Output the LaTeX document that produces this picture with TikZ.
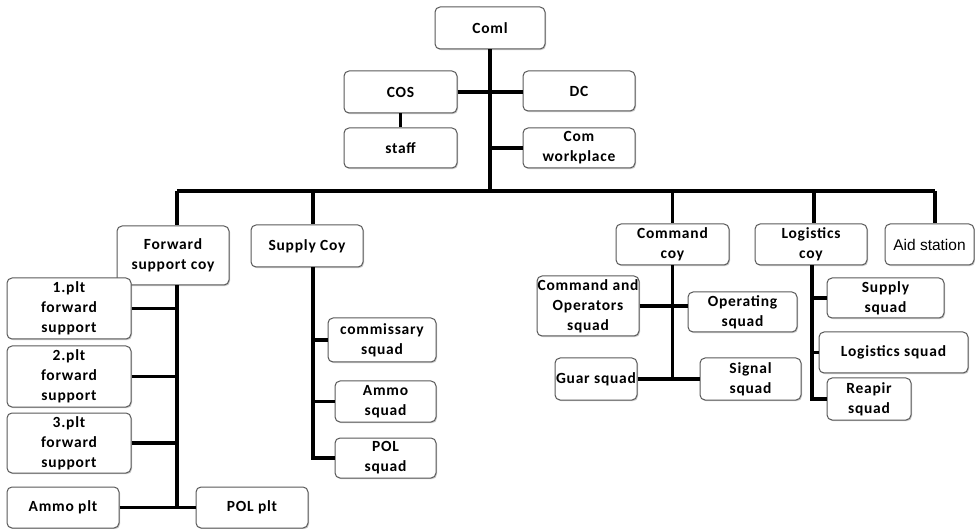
\documentclass[tikz,border=0pt]{standalone}
\usepackage{fontspec}
\setmainfont{Carlito}[LetterSpace=5]
\newfontfamily\aidfont{Liberation Sans}
\usetikzlibrary{shadows}
\tikzset{
  box/.style={draw=black!65, line width=1pt, rounded corners=5pt, fill=white,
    drop shadow={shadow xshift=1pt, shadow yshift=-1.2pt, opacity=0.35, fill=black!60},
    align=center, inner sep=0pt,
    font=\fontsize{15.5}{20}\selectfont\bfseries},
  conn/.style={line width=3.8pt, black}
}
\begin{document}
\begin{tikzpicture}[x=1pt,y=-1pt]
\useasboundingbox (0,0) rectangle (975,529);
% top
\node[box, minimum width=110pt, minimum height=42pt] (coml) at (490,28) {Coml};
\node[box, minimum width=113pt, minimum height=42pt] (cos) at (400.5,92) {COS};
\node[box, minimum width=112pt, minimum height=40pt] (dc) at (579,91) {DC};
\node[box, minimum width=113pt, minimum height=40pt] (staff) at (400.5,148) {staff};
\node[box, minimum width=112pt, minimum height=40pt] (cw) at (579,148) {Com\\workplace};
% level 2
\node[box, minimum width=112pt, minimum height=59pt] (fsc) at (173,255.5) {Forward\\support coy};
\node[box, minimum width=112pt, minimum height=42pt] (supc) at (307,246) {Supply Coy};
\node[box, minimum width=113pt, minimum height=41pt] (cmdc) at (672.5,244.5) {Command\\coy};
\node[box, minimum width=112pt, minimum height=41pt] (logc) at (811,244.5) {Logistics\\coy};
\node[box, minimum width=89pt, minimum height=41pt, font=\aidfont\fontsize{15.5}{18}\selectfont] (aid) at (929.5,244.5) {Aid station};
% forward support
\node[box, minimum width=124pt, minimum height=61pt] (p1) at (69,308.5) {1.plt\\forward\\support};
\node[box, minimum width=124pt, minimum height=61pt] (p2) at (69,376.5) {2.plt\\forward\\support};
\node[box, minimum width=124pt, minimum height=60pt] (p3) at (69,443) {3.plt\\forward\\support};
\node[box, minimum width=112pt, minimum height=41pt] (ammop) at (63,507.5) {Ammo plt};
\node[box, minimum width=112pt, minimum height=41pt] (polp) at (252,507.5) {POL plt};
% supply
\node[box, minimum width=108pt, minimum height=44pt] (comm) at (382,340) {commissary\\squad};
\node[box, minimum width=101pt, minimum height=41pt] (ammos) at (385.5,401.5) {Ammo\\squad};
\node[box, minimum width=101pt, minimum height=40pt] (pols) at (385.5,458) {POL\\squad};
% command
\node[box, minimum width=102pt, minimum height=60pt] (cao) at (588,306) {Command and\\Operators\\squad};
\node[box, minimum width=109pt, minimum height=40pt] (ops) at (742.5,312) {Operating\\squad};
\node[box, minimum width=82pt, minimum height=42pt] (guar) at (596,379) {Guar squad};
\node[box, minimum width=101pt, minimum height=42pt] (sig) at (750.5,379) {Signal\\squad};
% logistics
\node[box, minimum width=117pt, minimum height=40pt] (sups) at (885.5,298) {Supply\\squad};
\node[box, minimum width=149pt, minimum height=41pt] (logs) at (893.5,352.5) {Logistics squad};
\node[box, minimum width=84pt, minimum height=42pt] (reps) at (869,399) {Reapir\\squad};
% coordinates
\coordinate (busL) at (177,191);
\coordinate (busR) at (935,191);
\coordinate (d2) at (313,191);
\coordinate (d4) at (814,191);
\coordinate (fv) at (177,508);
\coordinate (sv) at (313,461);
\coordinate (lv) at (812,399);
% connectors
\begin{scope}[conn]
\draw (coml.south) -- (coml.south |- busL);
\draw (cos.east) -- (cos.east -| dc.west);
\draw (cos.south) -- (staff.north);
\draw (cw.west) -- (cw.west -| coml.south);
\draw (busL) -- (busR);
\draw (busL) -- (busL |- fsc.north);
\draw (d2) -- (d2 |- supc.north);
\draw (cmdc.north |- busL) -- (cmdc.north);
\draw (d4) -- (d4 |- logc.north);
\draw (busR) -- (busR |- aid.north);
% forward
\draw (fsc.south -| fv) -- (fv);
\draw (p1.east) -- (p1.east -| fv);
\draw (p2.east) -- (p2.east -| fv);
\draw (p3.east) -- (p3.east -| fv);
\draw (ammop.east) -- (polp.west);
% supply
\draw (supc.south -| sv) -- (sv |- pols.west) -- (pols.west);
\draw (comm.west) -- (comm.west -| sv);
\draw (ammos.west) -- (ammos.west -| sv);
% command
\draw (cmdc.south) -- (cmdc.south |- guar.east);
\draw (cao.east) -- (cao.east -| ops.west);
\draw (guar.east) -- (sig.west);
% logistics
\draw (logc.south -| lv) -- (lv |- reps.west) -- (reps.west);
\draw (sups.west) -- (sups.west -| lv);
\draw (logs.west) -- (logs.west -| lv);
\end{scope}
\end{tikzpicture}
\end{document}
